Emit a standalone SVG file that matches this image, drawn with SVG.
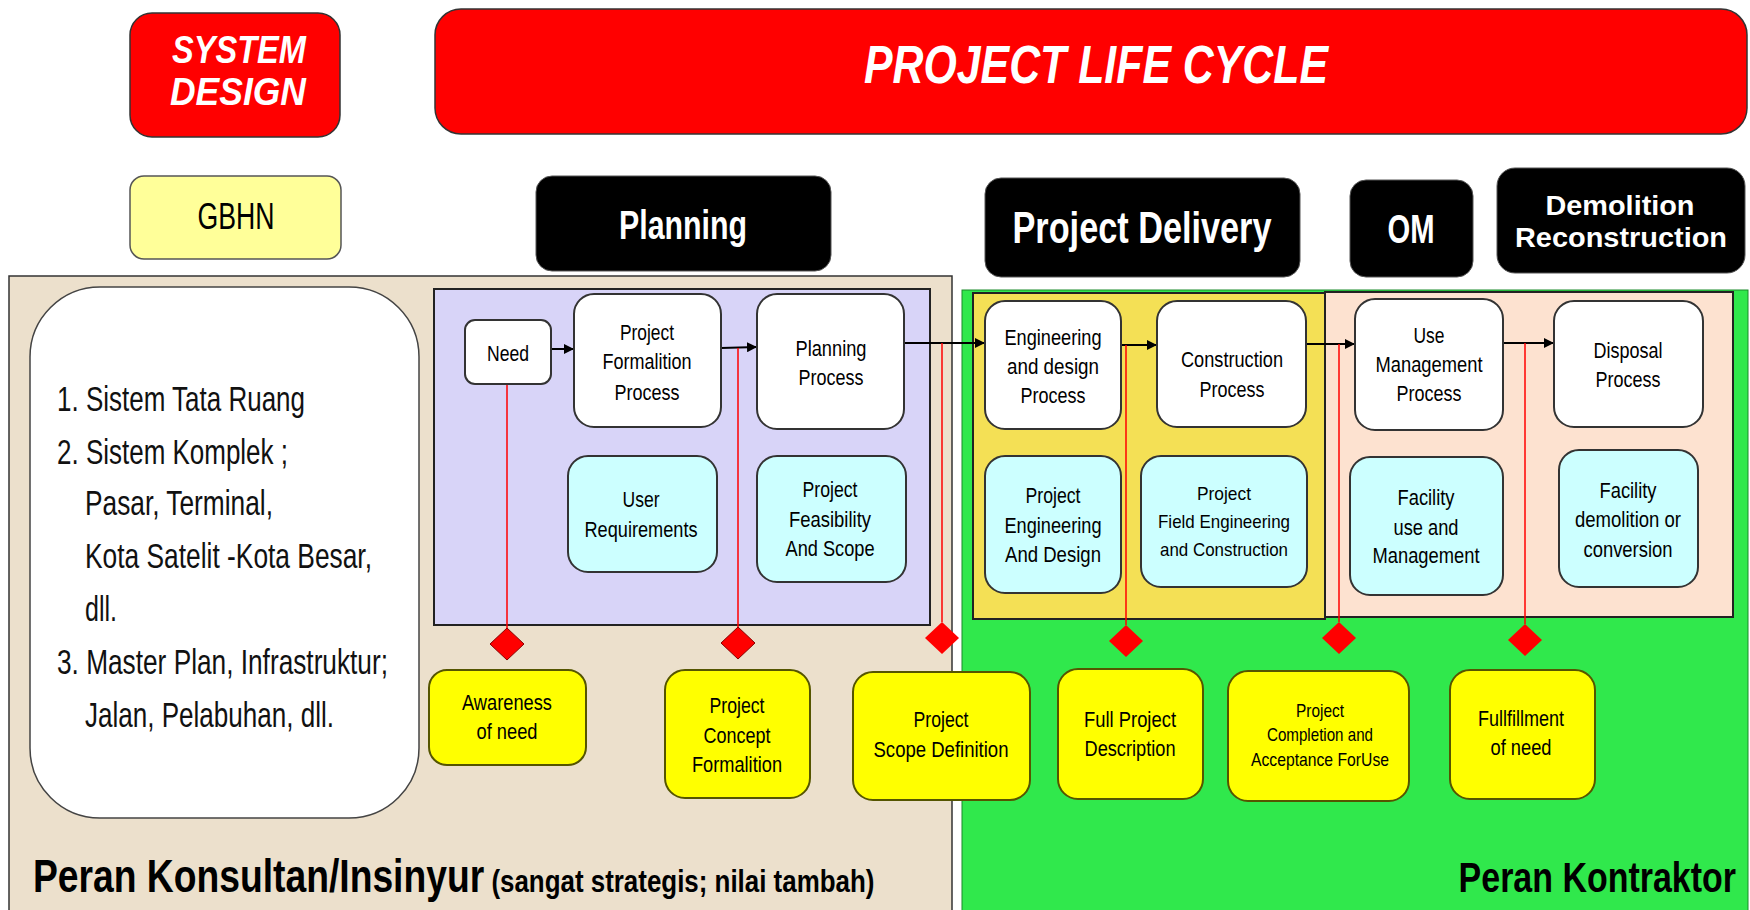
<svg xmlns="http://www.w3.org/2000/svg" width="1750" height="910" viewBox="0 0 1750 910">
<defs>
<marker id="ah" viewBox="0 0 10 10" refX="10" refY="5" markerWidth="5" markerHeight="5" orient="auto" markerUnits="strokeWidth">
<path d="M0,0 L10,5 L0,10 z" fill="#000"/>
</marker>
</defs>
<style>
.hdr{fill:#ff0000;stroke:#333;stroke-width:1.5}
.blk{fill:#000;stroke:#555;stroke-width:1}
.ht{font-family:"Liberation Sans",Arial,sans-serif;font-weight:bold;font-style:italic;fill:#fff;text-anchor:middle}
.bt{font-family:"Liberation Sans",Arial,sans-serif;font-weight:bold;fill:#fff;text-anchor:middle}
.proc{fill:#fff;stroke:#333;stroke-width:2}
.out{fill:#ccffff;stroke:#333;stroke-width:2}
.ms{fill:#ffff00;stroke:#555500;stroke-width:2}
.n{font-family:"Liberation Sans",Arial,sans-serif;font-size:22px;fill:#000;text-anchor:middle}
.s{font-size:19px}
.lst{font-family:"Liberation Sans",Arial,sans-serif;font-size:35px;fill:#111}
.role{font-family:"Liberation Sans",Arial,sans-serif;font-weight:bold;fill:#000}
.flow{stroke:#000;stroke-width:2;fill:none}
.red{stroke:#ff0000;stroke-width:1.5;fill:none}
.dia{fill:#ff0000;stroke:#880000;stroke-width:1}
</style>

<!-- background panels -->
<g id="panels">
<rect x="9" y="276" width="943" height="640" fill="#ece0cc" stroke="#333" stroke-width="1.5"/>
<rect x="962" y="290" width="786" height="630" fill="#30e84c" stroke="#1a8a2a" stroke-width="1"/>
<rect x="434" y="289" width="496" height="336" fill="#d8d4f8" stroke="#222" stroke-width="2"/>
<rect x="973" y="293" width="352" height="326" fill="#f4e055" stroke="#222" stroke-width="2"/>
<rect x="1325" y="292" width="408" height="325" fill="#fde2d0" stroke="#222" stroke-width="2"/>
</g>

<!-- headers -->
<g id="system-design">
<rect class="hdr" x="130" y="13" width="210" height="124" rx="22"/>
<text class="ht" x="239" y="63" font-size="38" textLength="134" lengthAdjust="spacingAndGlyphs">SYSTEM</text>
<text class="ht" x="238" y="105" font-size="38" textLength="136" lengthAdjust="spacingAndGlyphs">DESIGN</text>
</g>
<g id="project-life-cycle">
<rect class="hdr" x="435" y="9" width="1312" height="125" rx="26"/>
<text class="ht" x="1096" y="83" font-size="53" textLength="464" lengthAdjust="spacingAndGlyphs">PROJECT LIFE CYCLE</text>
</g>
<g id="gbhn">
<rect x="130" y="176" width="211" height="83" rx="14" fill="#ffff99" stroke="#555" stroke-width="1.5"/>
<text x="236" y="229" font-family="Liberation Sans, Arial, sans-serif" font-size="36" fill="#000" text-anchor="middle" textLength="77" lengthAdjust="spacingAndGlyphs">GBHN</text>
</g>
<g id="planning">
<rect class="blk" x="536" y="176" width="295" height="95" rx="16"/>
<text class="bt" x="683" y="239" font-size="40" textLength="128" lengthAdjust="spacingAndGlyphs">Planning</text>
</g>
<g id="project-delivery">
<rect class="blk" x="985" y="178" width="315" height="99" rx="16"/>
<text class="bt" x="1142" y="243" font-size="45" textLength="259" lengthAdjust="spacingAndGlyphs">Project Delivery</text>
</g>
<g id="om">
<rect class="blk" x="1350" y="180" width="123" height="97" rx="16"/>
<text class="bt" x="1411" y="243" font-size="40" textLength="47" lengthAdjust="spacingAndGlyphs">OM</text>
</g>
<g id="demolition">
<rect class="blk" x="1497" y="168" width="248" height="105" rx="18"/>
<text class="bt" x="1620" y="215" font-size="28" textLength="149" lengthAdjust="spacingAndGlyphs">Demolition</text>
<text class="bt" x="1621" y="247" font-size="28" textLength="212" lengthAdjust="spacingAndGlyphs">Reconstruction</text>
</g>

<!-- system list -->
<g id="system-list">
<rect x="30" y="287" width="389" height="531" rx="70" fill="#fff" stroke="#444" stroke-width="1.5"/>
<text class="lst" x="57" y="411" textLength="248" lengthAdjust="spacingAndGlyphs">1. Sistem Tata Ruang</text>
<text class="lst" x="57" y="464" textLength="231" lengthAdjust="spacingAndGlyphs">2. Sistem Komplek ;</text>
<text class="lst" x="85" y="515" textLength="188" lengthAdjust="spacingAndGlyphs">Pasar, Terminal,</text>
<text class="lst" x="85" y="568" textLength="287" lengthAdjust="spacingAndGlyphs">Kota Satelit -Kota Besar,</text>
<text class="lst" x="85" y="621" textLength="32" lengthAdjust="spacingAndGlyphs">dll.</text>
<text class="lst" x="57" y="674" textLength="331" lengthAdjust="spacingAndGlyphs">3. Master Plan, Infrastruktur;</text>
<text class="lst" x="85" y="727" textLength="249" lengthAdjust="spacingAndGlyphs">Jalan, Pelabuhan, dll.</text>
</g>

<!-- connectors -->
<g id="connectors">
<line class="flow" x1="551" y1="349" x2="574" y2="349" marker-end="url(#ah)"/>
<line class="flow" x1="721" y1="348" x2="757" y2="347" marker-end="url(#ah)"/>
<line class="flow" x1="904" y1="343" x2="985" y2="343" marker-end="url(#ah)"/>
<line class="flow" x1="1121" y1="345" x2="1157" y2="345" marker-end="url(#ah)"/>
<line class="flow" x1="1306" y1="344" x2="1355" y2="344" marker-end="url(#ah)"/>
<line class="flow" x1="1503" y1="343" x2="1554" y2="343" marker-end="url(#ah)"/>
<line class="red" x1="507" y1="384" x2="507" y2="628"/>
<line class="red" x1="738" y1="348" x2="738" y2="627"/>
<line class="red" x1="942" y1="343" x2="942" y2="622"/>
<line class="red" x1="1126" y1="345" x2="1126" y2="625"/>
<line class="red" x1="1339" y1="344" x2="1339" y2="622"/>
<line class="red" x1="1525" y1="343" x2="1525" y2="624"/>
</g>

<!-- process nodes -->
<g id="need"><rect class="proc" x="465" y="320" width="86" height="64" rx="10"/>
<text class="n" x="508" y="361" textLength="42" lengthAdjust="spacingAndGlyphs">Need</text></g>
<g id="formalition-process"><rect class="proc" x="574" y="294" width="147" height="133" rx="20"/>
<text class="n" x="647" y="340" textLength="54" lengthAdjust="spacingAndGlyphs">Project</text>
<text class="n" x="647" y="369" textLength="89" lengthAdjust="spacingAndGlyphs">Formalition</text>
<text class="n" x="647" y="400" textLength="65" lengthAdjust="spacingAndGlyphs">Process</text></g>
<g id="planning-process"><rect class="proc" x="757" y="294" width="147" height="135" rx="20"/>
<text class="n" x="831" y="356" textLength="71" lengthAdjust="spacingAndGlyphs">Planning</text>
<text class="n" x="831" y="385" textLength="65" lengthAdjust="spacingAndGlyphs">Process</text></g>
<g id="user-requirements"><rect class="out" x="568" y="456" width="149" height="116" rx="20"/>
<text class="n" x="641" y="507" textLength="37" lengthAdjust="spacingAndGlyphs">User</text>
<text class="n" x="641" y="537" textLength="113" lengthAdjust="spacingAndGlyphs">Requirements</text></g>
<g id="feasibility"><rect class="out" x="757" y="456" width="149" height="126" rx="20"/>
<text class="n" x="830" y="497" textLength="55" lengthAdjust="spacingAndGlyphs">Project</text>
<text class="n" x="830" y="527" textLength="82" lengthAdjust="spacingAndGlyphs">Feasibility</text>
<text class="n" x="830" y="556" textLength="89" lengthAdjust="spacingAndGlyphs">And Scope</text></g>

<g id="engineering-process"><rect class="proc" x="985" y="301" width="136" height="128" rx="20"/>
<text class="n" x="1053" y="345" textLength="97" lengthAdjust="spacingAndGlyphs">Engineering</text>
<text class="n" x="1053" y="374" textLength="92" lengthAdjust="spacingAndGlyphs">and design</text>
<text class="n" x="1053" y="403" textLength="65" lengthAdjust="spacingAndGlyphs">Process</text></g>
<g id="construction-process"><rect class="proc" x="1157" y="301" width="149" height="126" rx="20"/>
<text class="n" x="1232" y="367" textLength="102" lengthAdjust="spacingAndGlyphs">Construction</text>
<text class="n" x="1232" y="397" textLength="65" lengthAdjust="spacingAndGlyphs">Process</text></g>
<g id="use-management-process"><rect class="proc" x="1355" y="299" width="148" height="131" rx="20"/>
<text class="n" x="1429" y="343" textLength="31" lengthAdjust="spacingAndGlyphs">Use</text>
<text class="n" x="1429" y="372" textLength="107" lengthAdjust="spacingAndGlyphs">Management</text>
<text class="n" x="1429" y="401" textLength="65" lengthAdjust="spacingAndGlyphs">Process</text></g>
<g id="disposal-process"><rect class="proc" x="1554" y="301" width="149" height="126" rx="20"/>
<text class="n" x="1628" y="358" textLength="69" lengthAdjust="spacingAndGlyphs">Disposal</text>
<text class="n" x="1628" y="387" textLength="65" lengthAdjust="spacingAndGlyphs">Process</text></g>

<g id="project-engineering"><rect class="out" x="985" y="456" width="136" height="137" rx="20"/>
<text class="n" x="1053" y="503" textLength="55" lengthAdjust="spacingAndGlyphs">Project</text>
<text class="n" x="1053" y="533" textLength="97" lengthAdjust="spacingAndGlyphs">Engineering</text>
<text class="n" x="1053" y="562" textLength="96" lengthAdjust="spacingAndGlyphs">And Design</text></g>
<g id="field-engineering"><rect class="out" x="1141" y="456" width="166" height="131" rx="20"/>
<text class="n s" x="1224" y="500" textLength="54" lengthAdjust="spacingAndGlyphs">Project</text>
<text class="n s" x="1224" y="528" textLength="132" lengthAdjust="spacingAndGlyphs">Field Engineering</text>
<text class="n s" x="1224" y="556" textLength="128" lengthAdjust="spacingAndGlyphs">and Construction</text></g>
<g id="facility-use"><rect class="out" x="1350" y="457" width="153" height="138" rx="20"/>
<text class="n" x="1426" y="505" textLength="57" lengthAdjust="spacingAndGlyphs">Facility</text>
<text class="n" x="1426" y="535" textLength="65" lengthAdjust="spacingAndGlyphs">use and</text>
<text class="n" x="1426" y="563" textLength="107" lengthAdjust="spacingAndGlyphs">Management</text></g>
<g id="facility-demolition"><rect class="out" x="1559" y="450" width="139" height="137" rx="20"/>
<text class="n" x="1628" y="498" textLength="57" lengthAdjust="spacingAndGlyphs">Facility</text>
<text class="n" x="1628" y="527" textLength="106" lengthAdjust="spacingAndGlyphs">demolition or</text>
<text class="n" x="1628" y="557" textLength="89" lengthAdjust="spacingAndGlyphs">conversion</text></g>

<!-- milestones -->
<g id="diamonds">
<path class="dia" d="M507,628 L524,644 L507,660 L490,644 z"/>
<path class="dia" d="M738,627 L755,643 L738,659 L721,643 z"/>
<path d="M942,622 L959,638 L942,654 L925,638 z" fill="#ff0000"/>
<path d="M1126,625 L1143,641 L1126,657 L1109,641 z" fill="#ff0000"/>
<path d="M1339,622 L1356,638 L1339,654 L1322,638 z" fill="#ff0000"/>
<path d="M1525,624 L1542,640 L1525,656 L1508,640 z" fill="#ff0000"/>
</g>

<g id="awareness-of-need"><rect class="ms" x="429" y="670" width="157" height="95" rx="18"/>
<text class="n" x="507" y="710" textLength="90" lengthAdjust="spacingAndGlyphs">Awareness</text>
<text class="n" x="507" y="739" textLength="61" lengthAdjust="spacingAndGlyphs">of need</text></g>
<g id="concept-formalition"><rect class="ms" x="665" y="670" width="145" height="128" rx="20"/>
<text class="n" x="737" y="713" textLength="55" lengthAdjust="spacingAndGlyphs">Project</text>
<text class="n" x="737" y="743" textLength="67" lengthAdjust="spacingAndGlyphs">Concept</text>
<text class="n" x="737" y="772" textLength="90" lengthAdjust="spacingAndGlyphs">Formalition</text></g>
<g id="scope-definition"><rect class="ms" x="853" y="672" width="177" height="128" rx="20"/>
<text class="n" x="941" y="727" textLength="55" lengthAdjust="spacingAndGlyphs">Project</text>
<text class="n" x="941" y="757" textLength="135" lengthAdjust="spacingAndGlyphs">Scope Definition</text></g>
<g id="full-project-description"><rect class="ms" x="1058" y="669" width="145" height="130" rx="20"/>
<text class="n" x="1130" y="727" textLength="92" lengthAdjust="spacingAndGlyphs">Full Project</text>
<text class="n" x="1130" y="756" textLength="91" lengthAdjust="spacingAndGlyphs">Description</text></g>
<g id="completion-acceptance"><rect class="ms" x="1228" y="671" width="181" height="130" rx="20"/>
<text class="n s" x="1320" y="717" textLength="48" lengthAdjust="spacingAndGlyphs">Project</text>
<text class="n s" x="1320" y="741" textLength="106" lengthAdjust="spacingAndGlyphs">Completion and</text>
<text class="n s" x="1320" y="766" textLength="138" lengthAdjust="spacingAndGlyphs">Acceptance ForUse</text></g>
<g id="fulfillment-of-need"><rect class="ms" x="1450" y="670" width="145" height="129" rx="20"/>
<text class="n" x="1521" y="726" textLength="86" lengthAdjust="spacingAndGlyphs">Fullfillment</text>
<text class="n" x="1521" y="755" textLength="61" lengthAdjust="spacingAndGlyphs">of need</text></g>

<!-- role labels -->
<g id="role-consultant">
<text class="role" transform="translate(33,892) scale(0.81,1)"><tspan font-size="46">Peran Konsultan/Insinyur</tspan><tspan font-size="32"> (sangat strategis; nilai tambah)</tspan></text>
</g>
<g id="role-contractor">
<text class="role" transform="translate(1736,892) scale(0.79,1)" font-size="43" text-anchor="end">Peran Kontraktor</text>
</g>
</svg>
